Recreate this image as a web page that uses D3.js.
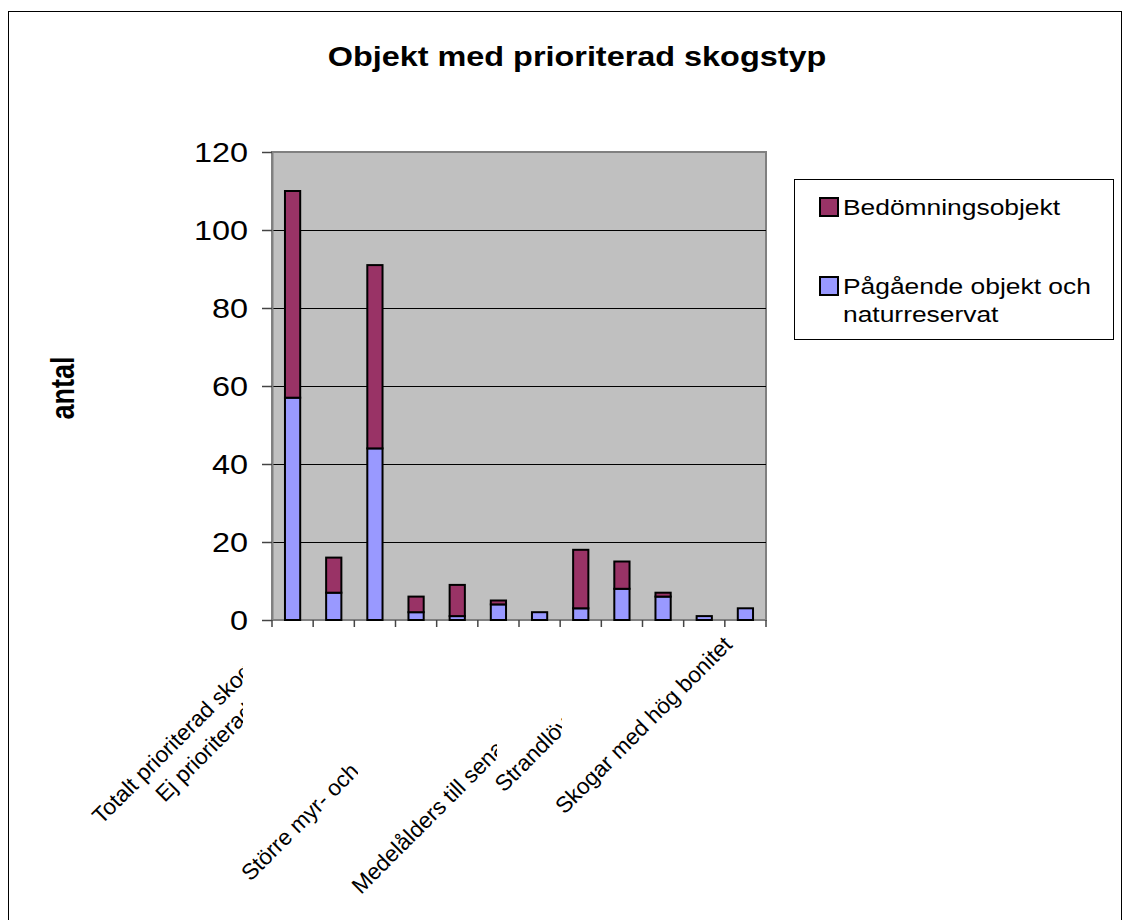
<!DOCTYPE html>
<html>
<head>
<meta charset="utf-8">
<script src="https://cdn.jsdelivr.net/npm/d3@7"></script>
<style>
  body { margin: 0; background: #fff; }
  svg text { font-family: 'Liberation Sans', Arial, sans-serif; }
</style>
</head>
<body>
<svg id="chart" width="1123" height="920"></svg>
<script>
// category labels as they show in the picture (blank = not drawn by the chart)
const categories = [
  'Totalt prioriterad skog', 'Ej prioriterad', '', '', '', 'Större myr- och',
  '', '', 'Medelålders till sena', 'Strandlövskog', '', 'Skogar med hög bonitet'
];
const seriesNames = ['Bedömningsobjekt', 'Pågående objekt och naturreservat'];
const pagaende = [57, 7, 44, 2, 1, 4, 2, 3, 8, 6, 1, 3];
const bedomning = [53, 9, 47, 4, 8, 1, 0, 15, 7, 1, 0, 0];
const yTicks = [0, 20, 40, 60, 80, 100, 120];

const colors = {bed: '#993366', pag: '#9999FF'};

// where the rotated labels start (below axis) and where the chart cut them off
const labelLayout = [
  {i: 0, drop: 205, clip: 243},
  {i: 1, drop: 183, clip: 243},
  {i: 5, drop: 262, clip: 358},
  {i: 8, drop: 275, clip: 497},
  {i: 9, drop: 173, clip: 562},
  {i: 11, drop: 195, clip: null}
];

const svg = d3.select('#chart');
const plot = {left: 272, right: 766, top: 152, bottom: 620};
const sx = 1.2; // the original picture is stretched sideways

// outer frame
svg.append('rect')
  .attr('x', 8.5).attr('y', 11.5)
  .attr('width', 1113).attr('height', 1000)
  .attr('fill', 'none').attr('stroke', '#000').attr('stroke-width', 1);

const xScale = d3.scaleBand()
  .domain(d3.range(categories.length))
  .range([plot.left, plot.right]);

const yScale = d3.scaleLinear()
  .domain([0, 120])
  .range([plot.bottom, plot.top]);

// plot area
svg.append('rect')
  .attr('x', plot.left).attr('y', plot.top)
  .attr('width', plot.right - plot.left).attr('height', plot.bottom - plot.top)
  .attr('fill', '#C0C0C0').attr('stroke', '#808080').attr('stroke-width', 2);

svg.selectAll('.grid')
  .data(yTicks.filter(t => t > 0 && t < 120))
  .enter()
  .append('line')
  .attr('class', 'grid')
  .attr('x1', plot.left).attr('x2', plot.right)
  .attr('y1', d => Math.round(yScale(d)) + 0.5).attr('y2', d => Math.round(yScale(d)) + 0.5)
  .attr('stroke', '#000').attr('stroke-width', 1);

// y axis
const yAxis = svg.append('g')
  .attr('transform', 'translate(' + plot.left + ',0)')
  .call(d3.axisLeft(yScale).tickValues(yTicks).tickSize(10).tickSizeOuter(0).tickFormat(''));
yAxis.select('.domain').attr('stroke', '#808080').attr('stroke-width', 2);
yAxis.selectAll('.tick line').attr('stroke', '#444').attr('stroke-width', 1.5);

svg.selectAll('.ylabel')
  .data(yTicks)
  .enter()
  .append('text')
  .attr('class', 'ylabel')
  .attr('transform', d => 'translate(248,' + (yScale(d) + 9.7) + ') scale(' + sx + ',1)')
  .attr('text-anchor', 'end')
  .attr('font-size', 27)
  .attr('fill', '#000')
  .text(d => d);

// x axis ticks at the category edges
const xEdges = d3.range(categories.length + 1).map(i => plot.left + i * xScale.step());
svg.append('line')
  .attr('x1', plot.left).attr('x2', plot.right)
  .attr('y1', plot.bottom).attr('y2', plot.bottom)
  .attr('stroke', '#808080').attr('stroke-width', 2);
svg.selectAll('.xtick')
  .data(xEdges)
  .enter()
  .append('line')
  .attr('class', 'xtick')
  .attr('x1', d => d).attr('x2', d => d)
  .attr('y1', plot.bottom).attr('y2', plot.bottom + 7)
  .attr('stroke', '#444').attr('stroke-width', 1.5);

// stacked bars
const barW = xScale.step() * 0.37;
const stackData = categories.map((c, i) => ({i: i, pag: pagaende[i], bed: bedomning[i]}));
const stacked = d3.stack().keys(['pag', 'bed'])(stackData);

svg.selectAll('.series')
  .data(stacked)
  .enter()
  .append('g')
  .attr('class', 'series')
  .attr('fill', d => colors[d.key])
  .selectAll('rect')
  .data(d => d.filter(s => s[1] > s[0]))
  .enter()
  .append('rect')
  .attr('x', d => xScale(d.data.i) + xScale.bandwidth() / 2 - barW / 2)
  .attr('y', d => yScale(d[1]))
  .attr('width', barW)
  .attr('height', d => yScale(d[0]) - yScale(d[1]))
  .attr('stroke', '#000')
  .attr('stroke-width', 2);

// rotated category labels, cut off like in the original
const defs = svg.append('defs');
labelLayout.forEach((l, k) => {
  const cx = xScale(l.i) + xScale.bandwidth() / 2;
  const startY = plot.bottom + l.drop;
  const startX = cx + (plot.bottom + 14) - startY;
  const g = svg.append('g');
  if (l.clip !== null) {
    defs.append('clipPath').attr('id', 'clip' + k)
      .append('rect')
      .attr('x', 0).attr('y', plot.bottom)
      .attr('width', l.clip).attr('height', 400);
    g.attr('clip-path', 'url(#clip' + k + ')');
  }
  g.append('text')
    .attr('transform', 'translate(' + startX + ',' + startY + ') rotate(-45)')
    .attr('font-size', 22.5)
    .attr('fill', '#000')
    .text(categories[l.i]);
});

// titles
svg.append('text')
  .attr('transform', 'translate(577,66) scale(' + sx + ',1)')
  .attr('text-anchor', 'middle')
  .attr('font-size', 27)
  .attr('font-weight', 'bold')
  .text('Objekt med prioriterad skogstyp');

svg.append('text')
  .attr('transform', 'translate(74,388) scale(' + sx + ',1) rotate(-90)')
  .attr('text-anchor', 'middle')
  .attr('font-size', 27)
  .attr('font-weight', 'bold')
  .text('antal');

// legend
const legend = svg.append('g');
legend.append('rect')
  .attr('x', 794.5).attr('y', 179.5)
  .attr('width', 319).attr('height', 160)
  .attr('fill', '#fff').attr('stroke', '#000').attr('stroke-width', 1);

const legendItems = [
  {name: seriesNames[0], color: colors.bed, y: 198, lines: ['Bedömningsobjekt']},
  {name: seriesNames[1], color: colors.pag, y: 277, lines: ['Pågående objekt och', 'naturreservat']}
];
legendItems.forEach(item => {
  legend.append('rect')
    .attr('x', 820).attr('y', item.y)
    .attr('width', 18).attr('height', 18)
    .attr('fill', item.color).attr('stroke', '#000').attr('stroke-width', 2);
  item.lines.forEach((line, j) => {
    legend.append('text')
      .attr('transform', 'translate(843,' + (item.y + 17 + j * 28) + ') scale(' + sx + ',1)')
      .attr('font-size', 22)
      .attr('fill', '#000')
      .text(line);
  });
});
</script>
</body>
</html>
